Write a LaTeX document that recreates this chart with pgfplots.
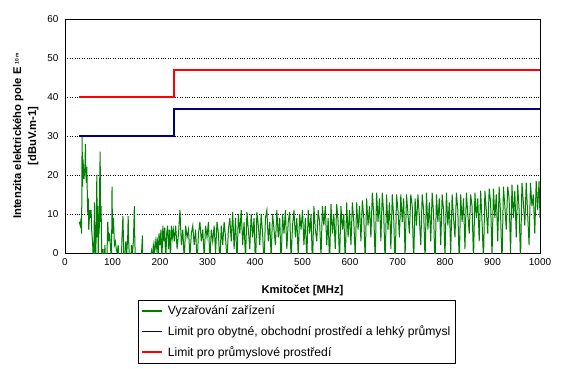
\documentclass[border=0pt]{standalone}
\usepackage{pgfplots}
\pgfplotsset{compat=1.18}
\usepackage{fontspec}
\setmainfont{Liberation Sans}
\definecolor{xlgreen}{RGB}{0,128,0}
\definecolor{xlnavy}{RGB}{0,0,128}
\definecolor{xlred}{RGB}{255,0,0}
\begin{document}
\begin{tikzpicture}
\useasboundingbox (-65bp,-116bp) rectangle (499bp,253bp);
\begin{axis}[
  scale only axis,
  width=475bp, height=234bp,
  xmin=0, xmax=1000, ymin=0, ymax=60,
  xtick={0,100,...,1000}, ytick={0,10,...,60},
  major tick length=0pt,
  ymajorgrids, grid style={black, dotted, line width=0.5bp},
  axis line style={black, line width=0.8bp},
  clip=true,
  /pgf/number format/assume math mode=true,
  /pgf/number format/1000 sep={},
  ticklabel style={font=\fontsize{10}{12}\selectfont},
  yticklabel style={xshift=-3bp},
  xticklabel style={yshift=-2bp},
  xlabel={Kmitočet [MHz]},
  xlabel style={at={(axis description cs:0.5,-0.158)}, anchor=center, font=\fontsize{11.3}{13}\selectfont\bfseries},
  ylabel={Intenzita elektrického pole E\hspace{3bp}\raisebox{2.5bp}{\fontsize{5}{5}\selectfont 10 m}\\{}[dBuV.m-1]},
  ylabel style={at={(axis description cs:-0.083,0.5)}, anchor=center, align=center, font=\fontsize{11.3}{15}\selectfont\bfseries},
  legend style={at={(axis description cs:0.154,-0.201)}, anchor=north west,
    draw=black, inner xsep=3bp, inner ysep=3.5bp,
    font=\fontsize{12.2}{14}\selectfont, row sep=5.5bp, column sep=0bp,
    /tikz/every odd column/.append style={column sep=3bp}},
  legend cell align=left,
  legend image code/.code={\draw[#1] (0bp,0bp) -- (20bp,0bp);},
  legend image post style={line width=1.6bp},
]
\addplot[color=xlgreen, line width=1bp] coordinates {
(30,8) (32,7) (34,9) (35,5) (36,30) (37,17) (38,24) (40,19) (42,22) (43,28) (44,20) (45,18) (46,22) (47,15) (48,10) (49,14) (50,6) (52,11) (54,9) (55,11) (56,6) (58,3) (60,-3) (61,2) (62,13) (63,5) (64,-2) (65,0) (66,9) (67,20) (68,4) (69,12) (70,-3) (71,10) (72,5) (73,18) (74,26) (75,8) (76,12) (77,2) (78,-3) (80,1) (82,-4) (84,2) (86,-5) (88,-3) (90,8) (92,3) (94,5) (96,1) (98,-2) (99,17) (100,5) (102,9) (104,2) (106,3) (108,1) (110,0) (112,2) (114,-3) (116,-1) (118,-5) (120,4) (122,9.5) (124,-2) (126,-1) (128,3) (130,0) (132,4) (133,9.5) (134,3) (136,-2) (138,-4) (140,2) (142,0) (144,3) (146,12) (147,3) (148,-1) (150,-3) (152,-2) (156,-5) (160,-3) (163,4.5) (164,-2) (168,-5) (172,-4) (176,-6) (180,-2) (182,0.5) (184,-1) (186,2) (188,0) (190,3) (192,1) (194,4) (196,-1) (198,5) (200,2) (202,6) (204,-2) (206,7) (208,3) (210,6.5) (212,-3) (214,5) (216,7) (218,1) (220,6) (222,-2) (224,7) (226,4) (228,6)
(230,3) (233,7) (236,1) (239,5) (242,11) (245,2) (248,6) (251,-2) (254,7) (257,4) (260,6) (263,-1) (266,5) (269,7) (272,2) (275,6) (278,-3) (281,5) (284,8) (287,3) (290,6) (293,-1) (296,7) (299,4) (302,8) (305,-2) (308,6) (311,3) (314,7) (317,0) (320,8) (323,5) (326,-3) (329,7) (332,2) (335,8) (338,4) (341,-2) (344,6) (347,9) (350,3)
(353,10.5) (356,1) (359,9) (362,-3) (365,10) (368,5) (371,11) (374,2) (377,8) (380,-2) (383,10.5) (386,6) (389,1) (392,10) (395,4) (398,9) (401,-4) (404,10.5) (407,7) (410,2) (413,10) (416,5) (419,-3) (422,9) (425,11) (428,3) (431,8) (434,-1) (437,10) (440,6) (443,2) (446,11) (449,4) (452,9) (455,-3) (458,10) (461,5) (464,11) (467,1) (470,8) (473,10.5) (476,-2) (479,7) (482,11) (485,4) (488,9) (491,-1) (494,10) (497,6) (500,11)
(503,2) (506,9) (509,-2) (512,11) (515,5) (518,10) (521,-4) (524,12) (527,6) (530,3) (533,11) (536,8) (539,-1) (542,12) (545,7) (548,12) (551,2) (554,9) (557,-3) (560,12.5) (563,5) (566,10) (569,1) (572,12.5) (575,8) (578,-2) (581,12) (584,6) (587,10) (590,-3) (593,13) (596,4) (599,11) (602,2) (605,13) (608,8) (611,-1) (614,13) (617,6) (620,12) (623,3) (626,13.5) (629,9) (632,-2) (635,14) (638,7) (641,12) (644,4) (647,15.5) (650,10)
(653,-2) (656,15.5) (659,8) (662,14) (665,3) (668,15.5) (671,10) (674,-3) (677,15) (680,6) (683,13) (686,1) (689,15) (692,9) (695,-4) (698,15) (701,11) (704,4) (707,15) (710,8) (713,14) (716,-1) (719,15) (722,10) (725,5) (728,15) (731,12) (734,-3) (737,14) (740,7) (743,15) (746,9) (749,2) (752,15) (755,11) (758,-2) (761,15.5) (764,6) (767,13) (770,3) (773,15.5) (776,10) (779,-4) (782,15) (785,8) (788,14) (791,2) (794,15) (797,11) (800,-1) (803,15.5) (806,7) (809,13) (812,0) (815,15) (818,9) (821,4) (824,15.5) (827,11) (830,-3) (833,15) (836,8) (839,14) (842,1) (845,15.5) (848,10) (851,5) (854,15) (857,12) (860,-2) (863,15.5) (866,9) (869,14)
(872,3) (875,16) (878,8) (881,-2) (884,16) (887,11) (890,5) (893,16.5) (896,13) (899,-1) (902,16.5) (905,9) (908,15) (911,3) (914,17) (917,10) (920,-3) (923,17) (926,12) (929,6) (932,17) (935,14) (938,0) (941,17.5) (944,9) (947,16) (950,4) (953,17.5) (956,11) (959,-2) (962,18) (965,13) (968,7) (971,18) (974,10) (977,2) (980,18) (983,12) (986,15) (989,5) (992,18.5) (995,11) (998,18.5) (1000,9)
};
\addlegendentry{Vyzařování zařízení}
\addplot[color=xlnavy, line width=1.8bp] coordinates {(30,30) (230,30) (230,37) (1000,37)};
\addlegendentry{Limit pro obytné, obchodní prostředí a lehký průmysl}
\addplot[color=xlred, line width=1.8bp] coordinates {(30,40) (230,40) (230,47) (1000,47)};
\addlegendentry{Limit pro průmyslové prostředí}
\end{axis}
\end{tikzpicture}
\end{document}
